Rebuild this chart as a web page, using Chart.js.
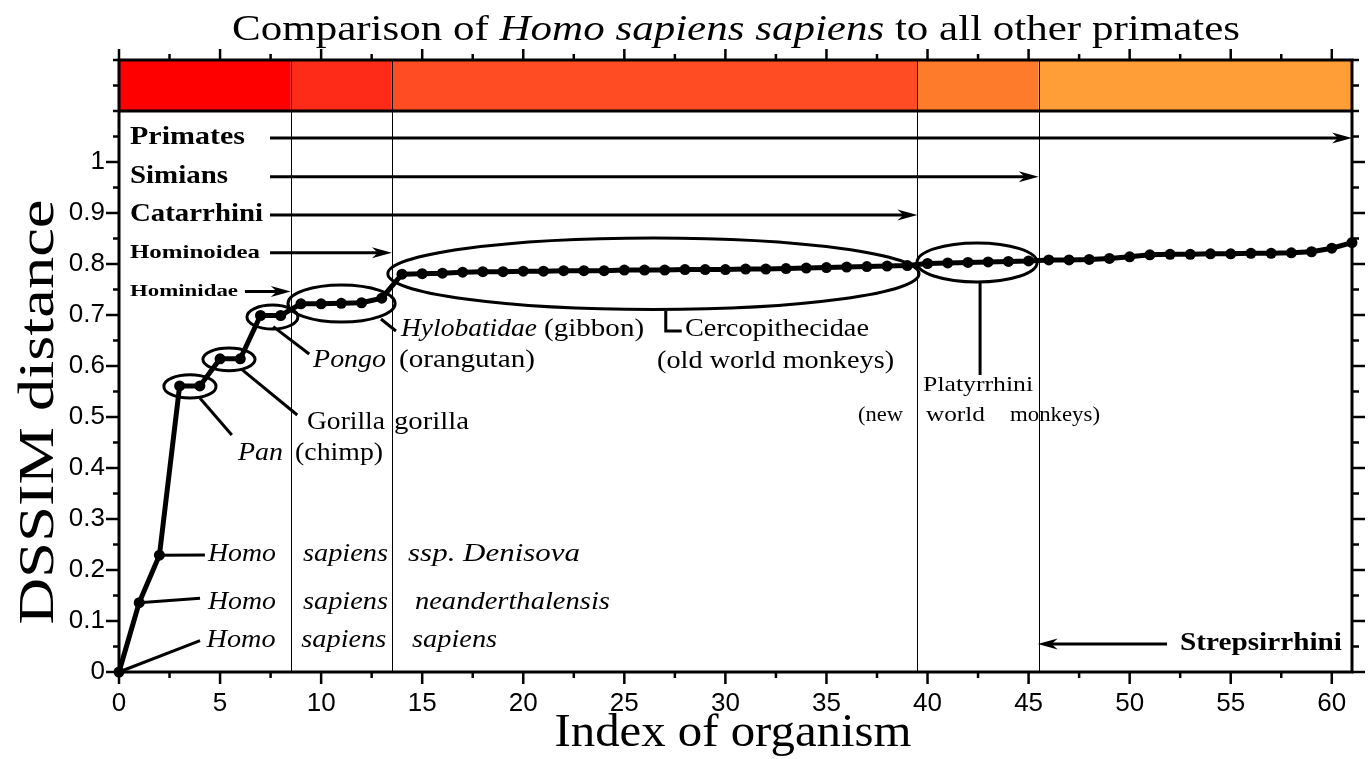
<!DOCTYPE html>
<html><head><meta charset="utf-8">
<script src="https://cdn.jsdelivr.net/npm/chart.js@4.4.1/dist/chart.umd.min.js"></script>
<style>html,body{margin:0;padding:0;background:#fff;overflow:hidden}</style>
</head><body>
<canvas id="chart" width="1371" height="759" style="display:block;width:1371px;height:759px"></canvas>
<script>
// ---------------- data ----------------
const organismIndex = [0,1,2,3,4,5,6,7,8,9,10,11,12,13,14,15,16,17,18,19,20,21,22,23,24,25,26,27,28,29,30,
  31,32,33,34,35,36,37,38,39,40,41,42,43,44,45,46,47,48,49,50,51,52,53,54,55,56,57,58,59,60,61];
const dssimDistance = [
  0.000, 0.136, 0.229, 0.561, 0.561, 0.614, 0.614, 0.699, 0.699, 0.722,
  0.722, 0.723, 0.724, 0.733, 0.780, 0.781, 0.782, 0.784, 0.785, 0.785,
  0.786, 0.786, 0.787, 0.787, 0.787, 0.788, 0.788, 0.788, 0.789, 0.789,
  0.789, 0.790, 0.790, 0.791, 0.792, 0.793, 0.794, 0.795, 0.796, 0.797,
  0.801, 0.802, 0.803, 0.804, 0.805, 0.806, 0.808, 0.808, 0.809, 0.811,
  0.814, 0.818, 0.819, 0.819, 0.820, 0.820, 0.821, 0.821, 0.822, 0.824,
  0.831, 0.842];
const xTickLabels = [0,5,10,15,20,25,30,35,40,45,50,55,60];
const yTickLabels = [0,0.1,0.2,0.3,0.4,0.5,0.6,0.7,0.8,0.9,1];
const cladeEdges = [0, 8.5, 13.5, 39.5, 45.5, 61];
const cladeColors = ['#ff0000', '#fd2b17', '#ff4c22', '#ff7b2c', '#ff9d37'];

// ---------------- styles / annotations ----------------
const SERIF = '"Liberation Serif", "Times New Roman", serif';
const SANS = '"Liberation Sans", Arial, sans-serif';
const X_MAX = 61, Y_MAX = 1.2, BAR_BOTTOM = 1.1;

// group labels + arrows (data coordinates)
const groupArrows = [
  {text:'Primates',   x:0.544, y:1.047, size:25, w:115, from:7.47, to:61},
  {text:'Simians',    x:0.544, y:0.971, size:25, w:98,  from:7.47, to:45.5},
  {text:'Catarrhini', x:0.544, y:0.896, size:25, w:133, from:7.47, to:39.5},
  {text:'Hominoidea', x:0.544, y:0.822, size:19, w:130, from:7.47, to:13.5},
  {text:'Hominidae',  x:0.544, y:0.746, size:17, w:108, from:6.23, to:8.5},
  {text:'Strepsirrhini', x:52.49, y:0.055, size:25, w:162, from:51.85, to:45.45}
];
const ellipses = [
  {cx:3.51,  cy:0.560, rx:1.29,  ry:0.0229},
  {cx:5.44,  cy:0.613, rx:1.29,  ry:0.0225},
  {cx:7.59,  cy:0.696, rx:1.26,  ry:0.0235},
  {cx:11.01, cy:0.7225,rx:2.65,  ry:0.0363},
  {cx:26.44, cy:0.7808,rx:13.14, ry:0.0702},
  {cx:42.45, cy:0.803, rx:2.97,  ry:0.0382}
];
const connectors = [
  [[2,0.229],[4.25,0.2294]],
  [[1,0.136],[4.01,0.1445]],
  [[0,0],[4.01,0.0614]],
  [[4.01,0.5367],[5.58,0.4647]],
  [[6.07,0.5935],[8.82,0.5039]],
  [[7.63,0.6771],[9.41,0.6235]],
  [[12.96,0.6922],[13.70,0.6686]],
  [[27.05,0.7078],[27.05,0.6686],[27.84,0.6686]],
  [[42.60,0.7647],[42.60,0.5824]]
];
const labels = [
  {t:'Homo', st:'italic', x:4.40, y:0.2314, size:26, w:68},
  {t:'sapiens', st:'italic', x:9.10, y:0.2314, size:26, w:85},
  {t:'ssp. Denisova', st:'italic', x:14.30, y:0.2314, size:26, w:172},
  {t:'Homo', st:'italic', x:4.40, y:0.1378, size:26, w:68},
  {t:'sapiens', st:'italic', x:9.10, y:0.1378, size:26, w:85},
  {t:'neanderthalensis', st:'italic', x:14.64, y:0.1378, size:26, w:195},
  {t:'Homo', st:'italic', x:4.33, y:0.0618, size:26, w:69},
  {t:'sapiens', st:'italic', x:9.02, y:0.0618, size:26, w:85},
  {t:'sapiens', st:'italic', x:14.50, y:0.0618, size:26, w:85},
  {t:'Pan', st:'italic', x:5.89, y:0.4294, size:26, w:45},
  {t:'(chimp)', st:'normal', x:8.71, y:0.4294, size:26, w:88},
  {t:'Gorilla', st:'normal', x:9.30, y:0.4908, size:26, w:78},
  {t:'gorilla', st:'normal', x:13.60, y:0.4908, size:26, w:75},
  {t:'Pongo', st:'italic', x:9.60, y:0.6118, size:26, w:73},
  {t:'(orangutan)', st:'normal', x:13.85, y:0.6118, size:26, w:136},
  {t:'Hylobatidae', st:'italic', x:13.95, y:0.6725, size:26, w:136},
  {t:'(gibbon)', st:'normal', x:21.03, y:0.6725, size:26, w:100},
  {t:'Cercopithecidae', st:'normal', x:28.0, y:0.6725, size:26, w:184},
  {t:'(old world monkeys)', st:'normal', x:26.62, y:0.609, size:26, w:237},
  {t:'Platyrrhini', st:'normal', x:39.78, y:0.5627, size:22, w:110},
  {t:'(new', st:'normal', x:36.56, y:0.504, size:22, w:45},
  {t:'world', st:'normal', x:39.92, y:0.504, size:22, w:59},
  {t:'monkeys)', st:'normal', x:44.08, y:0.504, size:22, w:90}
];

function fontFor(st, size){
  if (st === 'bold') return `normal bold ${size}px ${SERIF}`;
  if (st === 'italic') return `italic normal ${size}px ${SERIF}`;
  return `normal normal ${size}px ${SERIF}`;
}
// draws text segments stretched horizontally to a target width
function fitText(ctx, segs, px, py, size, targetW, opts = {}){
  let total = 0;
  const ws = segs.map(s => { ctx.font = fontFor(s[1], size); const w = ctx.measureText(s[0]).width; total += w; return w; });
  const k = targetW / total;
  ctx.save();
  ctx.translate(px, py);
  if (opts.rotate) ctx.rotate(opts.rotate);
  ctx.scale(k, 1);
  ctx.fillStyle = '#000';
  ctx.textAlign = 'left';
  ctx.textBaseline = opts.baseline || 'middle';
  let x0 = opts.align === 'center' ? -total / 2 : 0;
  segs.forEach((s, i) => { ctx.font = fontFor(s[1], size); ctx.fillText(s[0], x0, 0); x0 += ws[i]; });
  ctx.restore();
}
function line(ctx, x0, y0, x1, y1){ ctx.beginPath(); ctx.moveTo(x0, y0); ctx.lineTo(x1, y1); ctx.stroke(); }
function arrow(ctx, x0, y, x1){
  const dir = Math.sign(x1 - x0);
  ctx.lineWidth = 3;
  line(ctx, x0, y, x1 - dir * 12, y);
  ctx.beginPath();
  ctx.moveTo(x1, y);
  ctx.lineTo(x1 - dir * 20, y - 5.5);
  ctx.lineTo(x1 - dir * 14, y);
  ctx.lineTo(x1 - dir * 20, y + 5.5);
  ctx.closePath();
  ctx.fill();
}

const annotationPlugin = {
  id: 'annotations',
  beforeDatasetsDraw(chart){
    const {ctx, scales:{x, y}} = chart;
    ctx.save();
    const yT = y.getPixelForValue(Y_MAX), yB = y.getPixelForValue(BAR_BOTTOM), y0 = y.getPixelForValue(0);
    for (let i = 0; i < cladeColors.length; i++){
      const a = x.getPixelForValue(cladeEdges[i]), b = x.getPixelForValue(cladeEdges[i + 1]);
      ctx.fillStyle = cladeColors[i];
      ctx.fillRect(a, yT, b - a, yB - yT);
    }
    ctx.strokeStyle = '#000';
    ctx.lineWidth = 1;
    for (let i = 1; i < cladeEdges.length - 1; i++){
      const px = Math.round(x.getPixelForValue(cladeEdges[i])) + 0.5;
      line(ctx, px, yT, px, y0);
    }
    ctx.lineWidth = 3;
    ellipses.forEach(e => {
      const cx = x.getPixelForValue(e.cx), cy = y.getPixelForValue(e.cy);
      const rx = Math.abs(x.getPixelForValue(e.cx + e.rx) - cx), ry = Math.abs(y.getPixelForValue(e.cy + e.ry) - cy);
      ctx.beginPath(); ctx.ellipse(cx, cy, rx, ry, 0, 0, Math.PI * 2); ctx.stroke();
    });
    connectors.forEach(pts => {
      ctx.beginPath();
      pts.forEach((p, i) => { const px = x.getPixelForValue(p[0]), py = y.getPixelForValue(p[1]); i ? ctx.lineTo(px, py) : ctx.moveTo(px, py); });
      ctx.stroke();
    });
    ctx.restore();
  },
  afterDatasetsDraw(chart){
    const {ctx, scales:{x, y}} = chart;
    ctx.save();
    ctx.strokeStyle = '#000'; ctx.fillStyle = '#000';
    const L = x.getPixelForValue(0), R = x.getPixelForValue(X_MAX);
    const T = y.getPixelForValue(Y_MAX), B = y.getPixelForValue(0), M = y.getPixelForValue(BAR_BOTTOM);
    // frame
    ctx.lineWidth = 3;
    ctx.strokeRect(L, T, R - L, B - T);
    line(ctx, L, M, R, M);
    // tick marks
    ctx.lineWidth = 2.5;
    for (let k = 0; k <= 24; k++){
      const v = k * 2.5, major = k % 2 === 0, len = major ? 11 : 6;
      const px = x.getPixelForValue(v);
      line(ctx, px, B, px, B + (major ? 12 : 6));
      line(ctx, px, T, px, T - len);
    }
    for (let k = 0; k <= 24; k++){
      const v = k * 0.05, major = (k % 2 === 0) && k <= 20;
      const py = y.getPixelForValue(v);
      line(ctx, L, py, L - (major ? 13 : 6), py);
      line(ctx, R, py, R + (major ? 13 : 7), py);
    }
    // group arrows and labels
    groupArrows.forEach(g => {
      const py = y.getPixelForValue(g.y);
      arrow(ctx, x.getPixelForValue(g.from), py, x.getPixelForValue(g.to));
      fitText(ctx, [[g.text, 'bold']], x.getPixelForValue(g.x), py, g.size, g.w);
    });
    labels.forEach(l => fitText(ctx, [[l.t, l.st]], x.getPixelForValue(l.x), y.getPixelForValue(l.y), l.size, l.w));
    ctx.restore();
  },
  afterDraw(chart){
    const {ctx} = chart;
    fitText(ctx, [['Comparison of ', 'normal'], ['Homo sapiens sapiens', 'italic'], [' to all other primates', 'normal']],
      736, 40, 36, 1008, {align:'center', baseline:'alphabetic'});
    fitText(ctx, [['Index of organism', 'normal']], 733, 746, 46, 357, {align:'center', baseline:'alphabetic'});
    fitText(ctx, [['DSSIM distance', 'normal']], 53, 412, 50, 425, {align:'center', baseline:'alphabetic', rotate:-Math.PI / 2});
  }
};

new Chart(document.getElementById('chart'), {
  type: 'line',
  data: {
    datasets: [{
      label: 'DSSIM distance',
      data: organismIndex.map((v, i) => ({x: v, y: dssimDistance[i]})),
      borderColor: '#000', backgroundColor: '#000', borderWidth: 5,
      pointRadius: 5.5, pointHoverRadius: 5.5, pointBackgroundColor: '#000', pointBorderColor: '#000', pointBorderWidth: 0,
      tension: 0, clip: false
    }]
  },
  options: {
    responsive: false, animation: false, devicePixelRatio: 1, events: [],
    layout: {padding: {top: 60, right: 19, left: 0, bottom: 0}},
    plugins: {legend: {display: false}, tooltip: {enabled: false}, title: {display: false}},
    scales: {
      x: {
        type: 'linear', min: 0, max: X_MAX,
        afterBuildTicks: s => { s.ticks = xTickLabels.map(v => ({value: v})); },
        afterFit: s => { s.height = 87; },
        grid: {display: false, drawTicks: false}, border: {display: false},
        ticks: {color: '#000', font: {family: SANS, size: 26}, padding: 16, maxRotation: 0, autoSkip: false, callback: v => String(v)}
      },
      y: {
        type: 'linear', min: 0, max: Y_MAX,
        afterBuildTicks: s => { s.ticks = yTickLabels.map(v => ({value: v})); },
        afterFit: s => { s.width = 119; },
        grid: {display: false, drawTicks: false}, border: {display: false},
        ticks: {color: '#000', font: {family: SANS, size: 26}, padding: 14, autoSkip: false, callback: v => String(+Number(v).toFixed(1))}
      }
    }
  },
  plugins: [annotationPlugin]
});
</script>
</body></html>
